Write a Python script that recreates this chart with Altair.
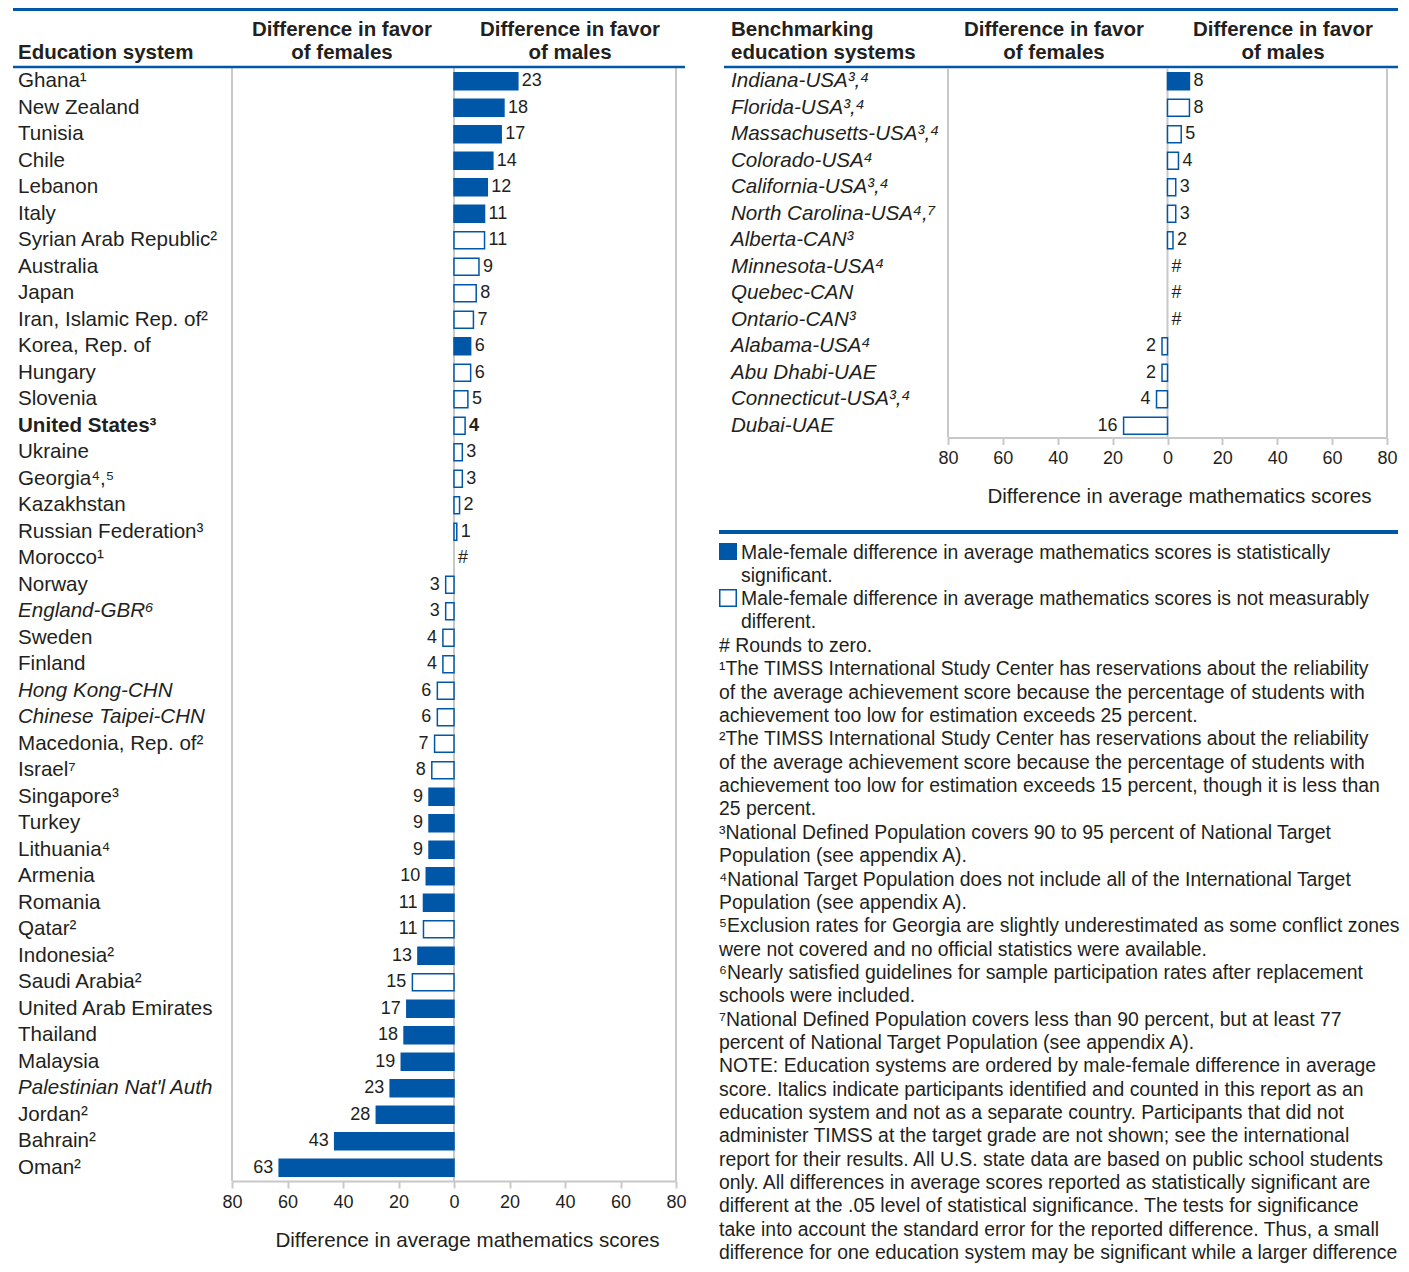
import altair as alt
import pandas as pd

# ---------------- data ----------------
left_names = [
    "Ghana¹", "New Zealand", "Tunisia", "Chile", "Lebanon", "Italy",
    "Syrian Arab Republic²", "Australia", "Japan", "Iran, Islamic Rep. of²",
    "Korea, Rep. of", "Hungary", "Slovenia", "United States³", "Ukraine",
    "Georgia⁴,⁵", "Kazakhstan", "Russian Federation³", "Morocco¹", "Norway",
    "England-GBR⁶", "Sweden", "Finland", "Hong Kong-CHN", "Chinese Taipei-CHN",
    "Macedonia, Rep. of²", "Israel⁷", "Singapore³", "Turkey", "Lithuania⁴",
    "Armenia", "Romania", "Qatar²", "Indonesia²", "Saudi Arabia²",
    "United Arab Emirates", "Thailand", "Malaysia", "Palestinian Nat'l Auth.²",
    "Jordan²", "Bahrain²", "Oman²",
]
left_diffs = [
    23, 18, 17, 14, 12, 11, 11, 9, 8, 7, 6, 6, 5, 4, 3, 3, 2, 1, 0, -3,
    -3, -4, -4, -6, -6, -7, -8, -9, -9, -9, -10, -11, -11, -13, -15,
    -17, -18, -19, -23, -28, -43, -63,
]
left_sig = [
    1, 1, 1, 1, 1, 1, 0, 0, 0, 0, 1, 0, 0, 0, 0, 0, 0, 0, 0, 0,
    0, 0, 0, 0, 0, 0, 0, 1, 1, 1, 1, 1, 0, 1, 0,
    1, 1, 1, 1, 1, 1, 1,
]
left_style = ["normal"] * len(left_names)
for i in (20, 23, 24, 38):
    left_style[i] = "italic"
left_style[13] = "bold"

right_names = [
    "Indiana-USA³,⁴", "Florida-USA³,⁴", "Massachusetts-USA³,⁴", "Colorado-USA⁴",
    "California-USA³,⁴", "North Carolina-USA⁴,⁷", "Alberta-CAN³", "Minnesota-USA⁴",
    "Quebec-CAN", "Ontario-CAN³", "Alabama-USA⁴", "Abu Dhabi-UAE",
    "Connecticut-USA³,⁴", "Dubai-UAE",
]
right_diffs = [8, 8, 5, 4, 3, 3, 2, 0, 0, 0, -2, -2, -4, -16]
right_sig = [1, 0, 0, 0, 0, 0, 0, 0, 0, 0, 0, 0, 0, 0]
right_style = ["italic"] * len(right_names)

axis_ticks = [-80, -60, -40, -20, 0, 20, 40, 60, 80]
frame_values = [-80, 0, 80]
n_rows_left = len(left_names)

legend_sig = ["Male-female difference in average mathematics scores is statistically",
              "significant."]
legend_ns = ["Male-female difference in average mathematics scores is not measurably",
             "different."]
notes = [
    "# Rounds to zero.",
    "¹The TIMSS International Study Center has reservations about the reliability",
    "of the average achievement score because the percentage of students with",
    "achievement too low for estimation exceeds 25 percent.",
    "²The TIMSS International Study Center has reservations about the reliability",
    "of the average achievement score because the percentage of students with",
    "achievement too low for estimation exceeds 15 percent, though it is less than",
    "25 percent.",
    "³National Defined Population covers 90 to 95 percent of National Target",
    "Population (see appendix A).",
    "⁴National Target Population does not include all of the International Target",
    "Population (see appendix A).",
    "⁵Exclusion rates for Georgia are slightly underestimated as some conflict zones",
    "were not covered and no official statistics were available.",
    "⁶Nearly satisfied guidelines for sample participation rates after replacement",
    "schools were included.",
    "⁷National Defined Population covers less than 90 percent, but at least 77",
    "percent of National Target Population (see appendix A).",
    "NOTE: Education systems are ordered by male-female difference in average",
    "score. Italics indicate participants identified and counted in this report as an",
    "education system and not as a separate country. Participants that did not",
    "administer TIMSS at the target grade are not shown; see the international",
    "report for their results. All U.S. state data are based on public school students",
    "only. All differences in average scores reported as statistically significant are",
    "different at the .05 level of statistical significance. The tests for significance",
    "take into account the standard error for the reported difference. Thus, a small",
    "difference for one education system may be significant while a larger difference",
]

# ---------------- styling ----------------
BLUE = "#0057a8"
GRAY = "#c8c8c8"
TEXT = "#231f20"
FONT = "Liberation Sans"
STEP = 26.5
PLOT_H = STEP * n_rows_left
RIGHT_H = STEP * len(right_names) - 1.5
NOVIEW = alt.ViewBackground(stroke="transparent", strokeWidth=0)
LH = 23.35
NOTE_SIZE = 19.4
HEAD_SIZE = 20.5
NAME_SIZE = 20.6


def make_df(names, diffs, sig, style):
    return pd.DataFrame({
        "row": list(range(len(names))),
        "name": names,
        "diff": diffs,
        "sig": ["S" if s else "NS" for s in sig],
        "style": style,
        "label": ["#" if d == 0 else str(abs(d)) for d in diffs],
    })


left_df = make_df(left_names, left_diffs, left_sig, left_style)
right_df = make_df(right_names, right_diffs, right_sig, right_style)

Y = alt.Y("row:O", scale=alt.Scale(domain=list(range(n_rows_left)),
                                   paddingInner=0.36, paddingOuter=0.18),
          axis=None)


def make_axis(offset, title_x):
    return alt.Axis(
        orient="bottom", offset=offset, values=axis_ticks, grid=False,
        labelExpr="abs(datum.value)", labelFontSize=18, labelColor=TEXT,
        labelFont=FONT, labelPadding=5, labelFlush=False, labelOverlap=False,
        tickSize=7, tickColor=GRAY, tickWidth=2,
        domainColor=GRAY, domainWidth=2,
        title="Difference in average mathematics scores", titleFont=FONT,
        titleFontSize=20.6, titleFontWeight="normal", titleColor=TEXT,
        titlePadding=19, titleX=title_x,
    )


def panel(df, x_range, axis, label_x, frame_h, limit):
    xs = alt.Scale(domain=[-80, 80], range=x_range, nice=False, zero=False)
    X = alt.X("diff:Q", scale=xs, axis=axis)
    base = alt.Chart(df)
    frame = alt.Chart(pd.DataFrame({"diff": frame_values})).mark_rule(
        color=GRAY, strokeWidth=2
    ).encode(x=X, y=alt.value(0), y2=alt.value(frame_h))
    bars = base.transform_filter("datum.diff != 0").mark_bar(
        stroke=BLUE, strokeWidth=1.5
    ).encode(
        x=X, x2=alt.datum(0), y=Y,
        fill=alt.Fill("sig:N", scale=alt.Scale(domain=["S", "NS"], range=[BLUE, "#ffffff"]),
                      legend=None),
    )
    layers = [frame, bars]
    for st, weight in (("normal", "normal"), ("bold", "bold")):
        sel = f"datum.style {'==' if st == 'bold' else '!='} 'bold'"
        layers.append(base.transform_filter(f"datum.diff >= 0 && {sel}").mark_text(
            align="left", baseline="middle", dx=4, fontSize=18, font=FONT,
            color=TEXT, fontWeight=weight
        ).encode(x=X, y=Y, text="label:N"))
        layers.append(base.transform_filter(f"datum.diff < 0 && {sel}").mark_text(
            align="right", baseline="middle", dx=-6, fontSize=18, font=FONT,
            color=TEXT, fontWeight=weight
        ).encode(x=X, y=Y, text="label:N"))
    for st in ("normal", "italic", "bold"):
        layers.append(base.transform_filter(f"datum.style == '{st}'").mark_text(
            align="left", baseline="middle", fontSize=NAME_SIZE, font=FONT, color=TEXT,
            fontStyle="italic" if st == "italic" else "normal",
            fontWeight="bold" if st == "bold" else "normal",
            limit=limit, ellipsis=" ",
        ).encode(x=alt.value(label_x), y=Y, text="name:N"))
    return alt.layer(*layers).properties(view=NOVIEW)


one = pd.DataFrame({"k": [0]})


def txt(text, x, y, align="left", weight="normal", size=HEAD_SIZE, baseline="middle", lh=None):
    kw = dict(text=text, align=align, baseline=baseline, fontSize=size, font=FONT,
              color=TEXT, fontWeight=weight)
    if lh is not None:
        kw["lineHeight"] = lh
    return alt.Chart(one).mark_text(**kw).encode(x=alt.value(x), y=alt.value(y))


def band(x1, x2, y1, y2, **kw):
    return alt.Chart(one).mark_rect(**kw).encode(
        x=alt.value(x1), x2=alt.value(x2), y=alt.value(y1), y2=alt.value(y2))


annot = [
    band(-219, 1166, -60, -57, color=BLUE),
    band(-219, 453, -2.25, 0.25, color=BLUE),
    band(492, 1166, -2.25, 0.25, color=BLUE),
    band(487, 1166, 462, 466, color=BLUE),
    txt("Education system", -214, -15, weight="bold"),
    txt("Difference in favor", 110, -38, align="center", weight="bold"),
    txt("of females", 110, -15, align="center", weight="bold"),
    txt("Difference in favor", 338, -38, align="center", weight="bold"),
    txt("of males", 338, -15, align="center", weight="bold"),
    txt("Benchmarking", 499, -38, weight="bold"),
    txt("education systems", 499, -15, weight="bold"),
    txt("Difference in favor", 822, -38, align="center", weight="bold"),
    txt("of females", 822, -15, align="center", weight="bold"),
    txt("Difference in favor", 1051, -38, align="center", weight="bold"),
    txt("of males", 1051, -15, align="center", weight="bold"),
    band(487, 505, 475, 492, color=BLUE),
    band(487.75, 504.25, 521.75, 538.25, fill="#ffffff", stroke=BLUE, strokeWidth=1.5),
    txt(legend_sig, 509, 491, size=NOTE_SIZE, baseline="alphabetic", lh=LH),
    txt(legend_ns, 509, 537, size=NOTE_SIZE, baseline="alphabetic", lh=LH),
    txt(notes, 487, 584, size=NOTE_SIZE, baseline="alphabetic", lh=LH),
]

left_panel = alt.layer(panel(left_df, [0, 444], make_axis(0, 235), -214, PLOT_H, 206),
                       *annot).properties(view=NOVIEW)
right_panel = panel(right_df, [716, 1155], make_axis(-(PLOT_H - RIGHT_H), 947),
                    499, RIGHT_H, 400)

chart = alt.layer(left_panel, right_panel).resolve_scale(x="independent").properties(
    width=1155, height=PLOT_H, view=NOVIEW,
    padding={"left": 5, "top": 0, "right": 0, "bottom": 0},
).configure_view(stroke="transparent", strokeWidth=0).configure_axis(
    grid=False, gridOpacity=0
).configure(font=FONT)

chart.save("out.html", embed_options={"renderer": "svg", "actions": False})
